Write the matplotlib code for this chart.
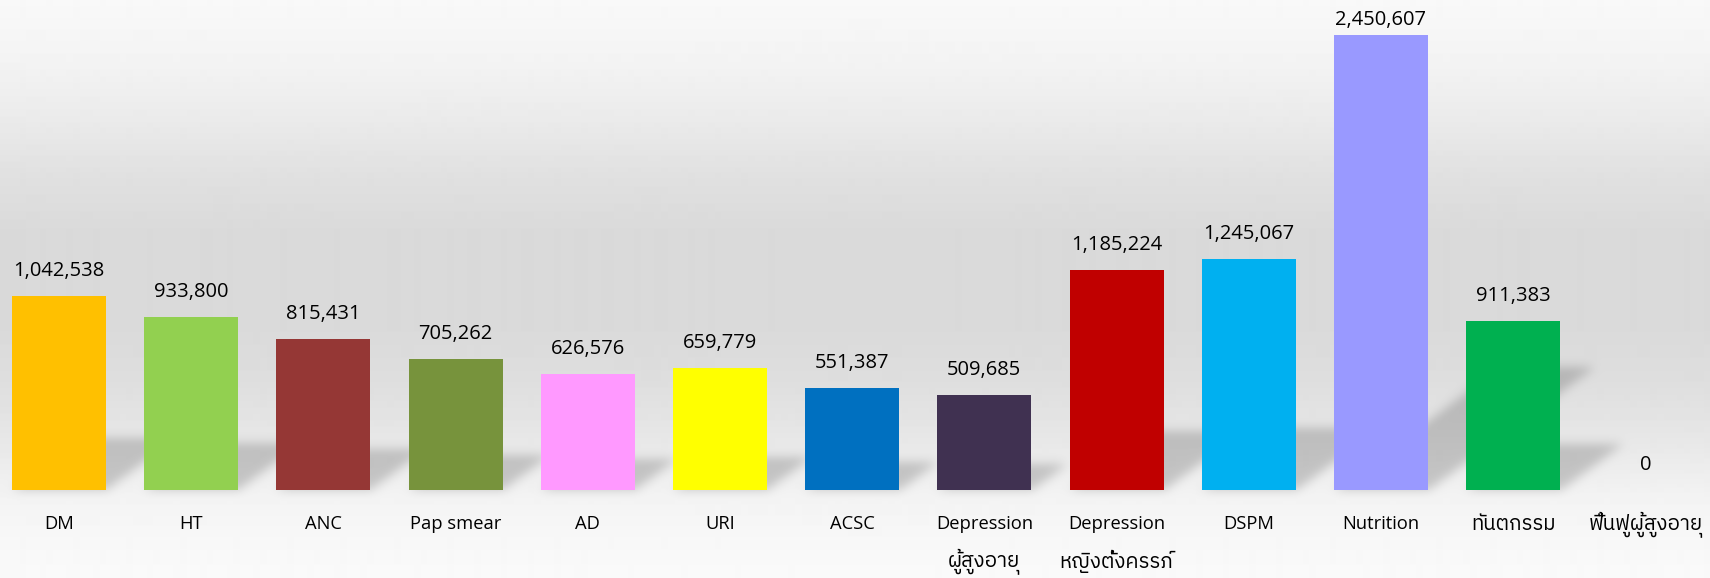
import numpy as np
import matplotlib
matplotlib.use('Agg')
import matplotlib.pyplot as plt
from matplotlib import font_manager
from matplotlib.ft2font import FT2Font

# ---------------- data ----------------
categories = ['DM', 'HT', 'ANC', 'Pap smear', 'AD', 'URI', 'ACSC',
              'Depression\nผู้สูงอายุ', 'Depression\nหญิงตั้งครรภ์', 'DSPM',
              'Nutrition', 'ทันตกรรม', 'ฟื้นฟูผู้สูงอายุ']
values = [1042538, 933800, 815431, 705262, 626576, 659779, 551387,
          509685, 1185224, 1245067, 2450607, 911383, 0]
colors = ['#FFC000', '#92D050', '#953735', '#77933C', '#FF99FF', '#FFFF00',
          '#0070C0', '#403151', '#C00000', '#00B0F0', '#9999FF', '#00B050',
          '#7F7F7F']

# ---------------- fonts ----------------
def find_thai_family():
    found = []
    for f in font_manager.fontManager.ttflist:
        try:
            cm = FT2Font(f.fname).get_charmap()
        except Exception:
            continue
        if 0x0E01 in cm and 0x0E49 in cm and 0x0E38 in cm:
            found.append(f.name)
    if not found:
        return None
    pref = [n for n in found if 'Thai' in n and 'Looped' not in n
            and 'Serif' not in n]
    if pref:
        return pref[0]
    return found[0]

thai = find_thai_family()
family = ['Open Sans'] + ([thai] if thai else []) + ['DejaVu Sans']
plt.rcParams['font.family'] = family

def has_thai(s):
    return any('\u0e00' <= ch <= '\u0e7f' for ch in s)

LAT_SIZE = 13.2
THAI_SIZE = 14.8

W, H = 1710, 578
fig = plt.figure(figsize=(W / 100, H / 100), dpi=100)

# background axes
bg = fig.add_axes([0, 0, 1, 1], zorder=0)
bg.axis('off')

ax = fig.add_axes([0, 88 / H, 1, 490 / H], zorder=1)
ax.set_facecolor('none')
n = len(values)
x = np.arange(n)
ax.set_xlim(-0.446, 12.489)
ax.set_ylim(0, 2640000)
bar_w = 0.711

# ---------------- background gradient + perspective shadows ----------------
stops_y = np.array([0, 60, 120, 180, 230, 330, 380, 430, 470, 500, 540, 578])
stops_v = np.array([0.975, 0.955, 0.92, 0.878, 0.855, 0.855, 0.87, 0.90,
                    0.93, 0.955, 0.97, 0.98])
rows = np.arange(H) + 0.5
grad = np.interp(rows, stops_y, stops_v)

mask = np.zeros((H, W))
cols = np.arange(W) + 0.5
for i, v in enumerate(values):
    (x0, yb), (x1, yt) = ax.transData.transform([(i - bar_w / 2, 0),
                                                 (i + bar_w / 2, v)])
    h = yt - yb
    if h <= 0:
        continue
    sh = 0.27 * h
    dx = 1.35 * sh
    for r in range(H):
        yd = H - r - 0.5
        if yb <= yd <= yb + sh:
            t = (yd - yb) / sh
            xl = x0 + t * dx
            xr = x1 + t * dx
            mask[r, (cols >= xl) & (cols <= xr)] = 1.0

sig = 5.0
k = np.arange(-15, 16)
kern = np.exp(-k ** 2 / (2 * sig ** 2))
kern /= kern.sum()
mb = np.apply_along_axis(lambda a: np.convolve(a, kern, mode='same'), 1, mask)
mb = np.apply_along_axis(lambda a: np.convolve(a, kern, mode='same'), 0, mb)

img = grad[:, None] * (1 - 0.18 * mb)
bg.imshow(img, cmap='gray', vmin=0, vmax=1, extent=(0, 1, 0, 1),
          aspect='auto', interpolation='bilinear')
bg.set_xlim(0, 1)
bg.set_ylim(0, 1)

# ---------------- bars ----------------
ax.bar(x, values, width=bar_w, color=colors, edgecolor='none', zorder=3)

px_per_unit = (ax.transData.transform((0, 1e6))[1] -
               ax.transData.transform((0, 0))[1]) / 1e6
off = 20 / px_per_unit
cap = ax.get_ylim()[1] - 25 / px_per_unit
for i, v in enumerate(values):
    ax.text(i, min(v + off, cap), f'{v:,}', ha='center', va='baseline',
            fontsize=14.5, color='#000000', zorder=4)

# category labels: first line as tick label, further lines as text below
first_lines = [c.split('\n')[0] for c in categories]
ax.set_xticks(x)
ax.set_xticklabels(first_lines, color='#000000')
ax.tick_params(axis='x', length=0, pad=0)
for i, lab in enumerate(ax.get_xticklabels()):
    lab.set_fontsize(THAI_SIZE if has_thai(first_lines[i]) else LAT_SIZE)
    lab.set_verticalalignment('center')
    lab.set_y(-34 / 490)
ax.xaxis.set_tick_params(pad=0)
for i, c in enumerate(categories):
    for j, line in enumerate(c.split('\n')[1:], start=1):
        ax.text(i, -(34 + 37 * j) / 490, line, transform=ax.get_xaxis_transform(),
                ha='center', va='center', color='#000000',
                fontsize=THAI_SIZE if has_thai(line) else LAT_SIZE)

ax.set_yticks([])
for s in ax.spines.values():
    s.set_visible(False)

fig.savefig('out.png', dpi=100)
